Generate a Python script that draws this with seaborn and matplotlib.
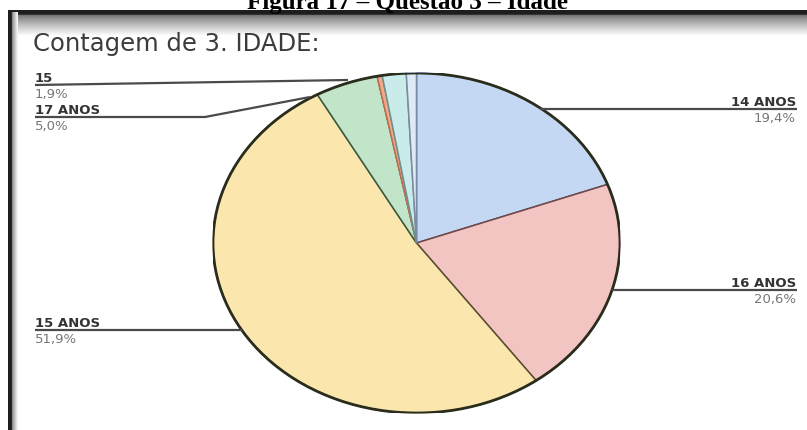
import numpy as np
import matplotlib
matplotlib.use("Agg")
import matplotlib.pyplot as plt
from matplotlib.patches import Circle
import seaborn as sns

# ---- data ----
categories = ["14 ANOS", "16 ANOS", "15 ANOS", "17 ANOS", "", "15", ""]
values = [19.4, 20.6, 51.9, 5.0, 0.4, 1.9, 0.8]
pct_labels = ["19,4%", "20,6%", "51,9%", "5,0%", "", "1,9%", ""]
colors = ["#c5d8f3", "#f2c4c2", "#fbe7ae", "#c2e4c9", "#f2a98a", "#c9ebea", "#dfeaf6"]
edge_colors = ["#405070", "#704848", "#5a5030", "#3a5a40", "#c07050", "#6a9090", "#7a8aa0"]

title = "Figura 17 \u2013 Quest\u00e3o 3 \u2013 Idade"
subtitle = "Contagem de 3. IDADE:"

sns.set_theme(style="white")
plt.rcParams["font.family"] = ["DejaVu Sans"]

W, H = 807, 430
fig = plt.figure(figsize=(W / 100, H / 100), dpi=100)
fig.patch.set_facecolor("white")

# background / frame axes in pixel coordinates
bg = fig.add_axes([0, 0, 1, 1], zorder=0)
bg.set_xlim(0, W)
bg.set_ylim(H, 0)
bg.axis("off")

# top shaded border
ys = np.linspace(0, 1, 60)
top_vals = np.where(ys < 0.17, 0.12, 0.42 + 0.58 * ((ys - 0.17) / 0.83) ** 0.8)
top_img = np.repeat(top_vals[:, None, None], 3, axis=2)
bg.imshow(top_img, extent=(8, W, 36, 10), aspect="auto", interpolation="bilinear", zorder=1)
# left shaded border
xs = np.linspace(0, 1, 40)
left_vals = np.where(xs < 0.4, 0.12, 0.55 + 0.45 * ((xs - 0.4) / 0.6))
left_img = np.repeat(left_vals[None, :, None], 3, axis=2)
bg.imshow(left_img, extent=(8, 18, H, 12), aspect="auto", interpolation="bilinear", zorder=1)

# title (partly cut off at top, as in the reference)
fig.text(0.505, 1 - 8.5 / H, title, ha="center", va="baseline",
         fontsize=18, fontweight="bold", family=["Liberation Serif", "DejaVu Serif"], color="black")

bg.text(33, 51, subtitle, ha="left", va="baseline", fontsize=17.5, color="#3c3c3c", zorder=3)

# pie axes (elliptical)
ax = fig.add_axes([213 / W, (H - 413) / H, 407 / W, 340 / H], zorder=2)
wedges, _ = ax.pie(values, colors=colors, startangle=90, counterclock=False,
                   radius=1.0, wedgeprops=dict(linewidth=1.1))
for w, ec in zip(wedges, edge_colors):
    w.set_edgecolor(ec)
ax.add_patch(Circle((0, 0), 1.0, fill=False, ec="#2a2c1c", lw=2.0, zorder=5))
ax.set_aspect("auto")
ax.set_xlim(-1.0, 1.0)
ax.set_ylim(-1.0, 1.0)
ax.axis("off")

# overlay for leader lines and labels
ov = fig.add_axes([0, 0, 1, 1], zorder=3)
ov.set_xlim(0, W)
ov.set_ylim(H, 0)
ov.axis("off")
ov.patch.set_alpha(0)

# layout of labels: (category index, text x, alignment, underline y, leader line points)
layout = [
    (0, 796, "right", 109, [(540, 109), (797, 109)]),
    (1, 796, "right", 290, [(612, 290), (797, 290)]),
    (2, 35, "left", 330, [(35, 330), (242, 330)]),
    (3, 35, "left", 117, [(35, 117), (205, 117), (310, 97)]),
    (5, 35, "left", 85, [(35, 85), (348, 80)]),
]
for idx, tx, ha, ly, pts in layout:
    px, py = zip(*pts)
    ov.plot(px, py, color="#4a4a4a", lw=1.6, solid_capstyle="butt")
    ov.text(tx, ly - 3, categories[idx], ha=ha, va="baseline", fontsize=9.5,
            fontweight="bold", color="#333333")
    ov.text(tx, ly + 3, pct_labels[idx], ha=ha, va="top", fontsize=9.5, color="#777777")

fig.savefig("out.png", dpi=100)
